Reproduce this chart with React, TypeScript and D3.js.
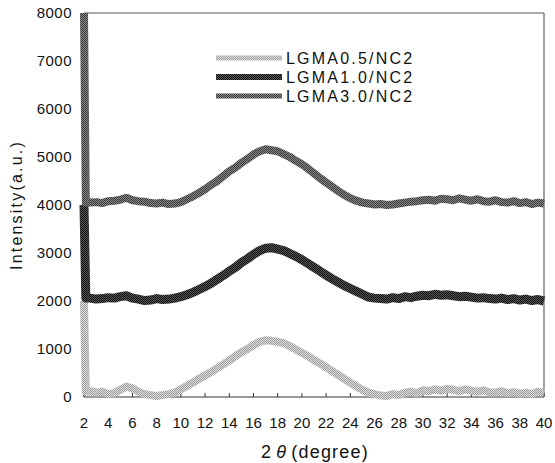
import React from "react";
import * as d3 from "d3";

const angles = [2, 2.15, 2.5, 3, 3.5, 4, 4.5, 5, 5.5, 6, 6.5, 7, 7.5, 8, 8.5, 9, 9.5, 10, 10.5, 11, 11.5, 12, 12.5, 13, 13.5, 14, 14.5, 15, 15.5, 16, 16.5, 17, 17.5, 18, 18.5, 19, 19.5, 20, 20.5, 21, 21.5, 22, 22.5, 23, 23.5, 24, 24.5, 25, 25.5, 26, 26.5, 27, 27.5, 28, 28.5, 29, 29.5, 30, 30.5, 31, 31.5, 32, 32.5, 33, 33.5, 34, 34.5, 35, 35.5, 36, 36.5, 37, 37.5, 38, 38.5, 39, 39.5, 40];

const lgma05 = [2000, 110, 120, 90, 110, 60, 80, 150, 220, 180, 110, 60, 40, 20, 40, 60, 90, 160, 230, 300, 380, 450, 520, 600, 680, 760, 850, 930, 1000, 1080, 1150, 1180, 1170, 1150, 1120, 1060, 990, 920, 850, 770, 700, 620, 540, 460, 380, 300, 220, 150, 90, 60, 30, 20, 60, 40, 90, 110, 80, 140, 120, 160, 130, 170, 150, 120, 160, 130, 110, 140, 100, 90, 120, 80, 100, 70, 90, 60, 110, 80];

const lgma10 = [4000, 2060, 2060, 2040, 2050, 2070, 2060, 2090, 2110, 2060, 2040, 2010, 2020, 2050, 2030, 2040, 2060, 2090, 2130, 2180, 2240, 2300, 2370, 2450, 2530, 2620, 2700, 2800, 2880, 2970, 3050, 3100, 3110, 3080, 3050, 2990, 2930, 2860, 2780, 2700, 2620, 2540, 2460, 2390, 2320, 2260, 2200, 2140, 2080, 2060, 2050, 2040, 2070, 2050, 2090, 2070, 2100, 2120, 2110, 2140, 2120, 2130, 2110, 2090, 2100, 2080, 2060, 2070, 2050, 2040, 2060, 2030, 2050, 2020, 2040, 2010, 2030, 2000];

const lgma30 = [8000, 4050, 4050, 4060, 4040, 4080, 4090, 4110, 4150, 4100, 4080, 4070, 4040, 4030, 4050, 4020, 4030, 4060, 4120, 4180, 4250, 4330, 4420, 4500, 4600, 4700, 4780, 4880, 4960, 5050, 5120, 5160, 5140, 5120, 5060, 5000, 4920, 4850, 4760, 4660, 4560, 4470, 4380, 4290, 4210, 4140, 4090, 4050, 4030, 4010, 4020, 4000, 4010, 4030, 4050, 4070, 4080, 4100, 4110, 4090, 4130, 4120, 4100, 4140, 4110, 4090, 4120, 4080, 4070, 4100, 4060, 4050, 4080, 4040, 4060, 4020, 4050, 4030];

const seriesNames = ["LGMA0.5/NC2", "LGMA1.0/NC2", "LGMA3.0/NC2"];
const xTicks = [2, 4, 6, 8, 10, 12, 14, 16, 18, 20, 22, 24, 26, 28, 30, 32, 34, 36, 38, 40];
const yTicks = [0, 1000, 2000, 3000, 4000, 5000, 6000, 7000, 8000];

const patterns = [
  { id: "p05", a: "#9a9a9a", b: "#e0e0e0" },
  { id: "p10", a: "#111111", b: "#555555" },
  { id: "p30", a: "#3a3a3a", b: "#888888" },
];

export default function App() {
  const x = d3.scaleLinear().domain([2, 40]).range([84, 544]);
  const y = d3.scaleLinear().domain([0, 8000]).range([397, 13]);
  const font = "'Liberation Sans', Arial, sans-serif";

  const seriesData = [lgma05, lgma10, lgma30];
  const line = d3
    .line<number>()
    .x((_, i) => x(angles[i]))
    .y((d) => y(d));

  const widths = [8, 9, 8];
  const legendY = [58, 77, 96];

  return (
    <svg
      width={555}
      height={463}
      style={{ position: "absolute", left: 0, top: 0, background: "#fff" }}
    >
      <defs>
        {patterns.map((p) => (
          <pattern key={p.id} id={p.id} width={2} height={2} patternUnits="userSpaceOnUse">
            <rect x={0} y={0} width={2} height={2} fill={p.b} />
            <rect x={0} y={0} width={1} height={1} fill={p.a} />
            <rect x={1} y={1} width={1} height={1} fill={p.a} />
          </pattern>
        ))}
      </defs>
      <rect x={0} y={0} width={555} height={463} fill="#fff" />

      {/* frame */}
      <line x1={x(2)} x2={x(40)} y1={y(8000)} y2={y(8000)} stroke="#555" strokeWidth={1} />
      <line x1={x(40)} x2={x(40)} y1={y(8000)} y2={y(0)} stroke="#444" strokeWidth={1} />
      <line x1={x(2)} x2={x(40)} y1={y(0)} y2={y(0)} stroke="#333" strokeWidth={1} />
      <line x1={x(2)} x2={x(2)} y1={y(8000)} y2={y(0)} stroke="#333" strokeWidth={1} />
      {xTicks.map((t) => (
        <line key={"xt" + t} x1={x(t)} x2={x(t)} y1={y(0)} y2={y(0) - 4} stroke="#333" strokeWidth={1} />
      ))}

      {/* series */}
      {seriesData.map((d, i) => (
        <path
          key={"s" + i}
          d={line(d) || ""}
          fill="none"
          stroke={`url(#${patterns[i].id})`}
          strokeWidth={widths[i]}
          strokeLinejoin="round"
          strokeLinecap="butt"
        />
      ))}

      {/* y tick labels */}
      {yTicks.map((t) => (
        <text
          key={"yl" + t}
          x={72}
          y={y(t)}
          dy="0.36em"
          textAnchor="end"
          fontFamily={font}
          fontSize={15}
          letterSpacing={0.5}
          fill="#111"
        >
          {t}
        </text>
      ))}

      {/* x tick labels */}
      {xTicks.map((t) => (
        <text
          key={"xl" + t}
          x={x(t)}
          y={428}
          textAnchor="middle"
          fontFamily={font}
          fontSize={15}
          fill="#111"
        >
          {t}
        </text>
      ))}

      {/* axis titles */}
      <text
        x={315}
        y={458}
        textAnchor="middle"
        fontFamily={font}
        fontSize={18}
        letterSpacing={1.2}
        fill="#111"
      >
        2<tspan fontStyle="italic" dx={4}>θ</tspan>
        <tspan dx={4}>(degree)</tspan>
      </text>
      <text
        transform={`translate(22,${205}) rotate(-90)`}
        textAnchor="middle"
        fontFamily={font}
        fontSize={16}
        letterSpacing={2.2}
        fill="#111"
      >
        Intensity(a.u.)
      </text>

      {/* legend */}
      {seriesNames.map((n, i) => (
        <g key={"lg" + i}>
          <line
            x1={216}
            x2={282}
            y1={legendY[i]}
            y2={legendY[i]}
            stroke={`url(#${patterns[i].id})`}
            strokeWidth={i === 1 ? 6 : 5}
          />
          <text
            x={286}
            y={legendY[i]}
            dy="0.36em"
            fontFamily={font}
            fontSize={16}
            letterSpacing={2.2}
            fill="#111"
          >
            {n}
          </text>
        </g>
      ))}
    </svg>
  );
}
